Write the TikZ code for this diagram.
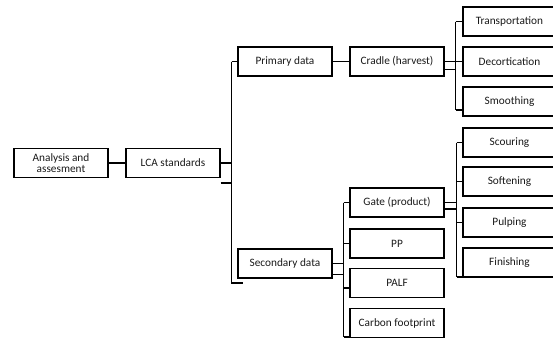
\documentclass[tikz,border=0pt]{standalone}
\usepackage{fontspec}
\setmainfont{Carlito}
\usetikzlibrary{calc}
\begin{document}
\begin{tikzpicture}[x=1pt,y=-1pt,
  box/.style={draw=black,line width=1.2pt,minimum width=94pt,minimum height=29pt,inner sep=1pt,align=center,font=\fontsize{11.3}{11.5}\selectfont,text=black!90},
  rbox/.style={box,minimum width=93pt},
  con/.style={draw=black,line width=1.1pt}]
\useasboundingbox (0,0) rectangle (553,341);
\node[box] (ana) at (61,163) {Analysis and\\assesment};
\node[box] (lca) at (173,163) {LCA standards};
\node[box] (pri) at (285,61.5) {Primary data};
\node[box] (sec) at (285,263.5) {Secondary data};
\node[box] (cra) at (397,61.5) {Cradle (harvest)};
\node[box] (gat) at (397,202.5) {Gate (product)};
\node[box] (pp) at (397,243.5) {PP};
\node[box] (palf) at (397,283) {PALF};
\node[box] (cf) at (397,323) {Carbon footprint};
\node[rbox] (tra) at (509.5,21.5) {Transportation};
\node[rbox] (dec) at (509.5,61.5) {Decortication};
\node[rbox] (smo) at (509.5,101.5) {Smoothing};
\node[rbox] (sco) at (509.5,142.5) {Scouring};
\node[rbox] (sof) at (509.5,181.5) {Softening};
\node[rbox] (pul) at (509.5,222.5) {Pulping};
\node[rbox] (fin) at (509.5,262.5) {Finishing};
% level 1
\draw[con] (ana.east) -- (lca.west);
\coordinate (b1) at ($(lca.east)+(11,0)$);
\draw[con] (lca.east) -- (b1);
\draw[con] ($(lca.east)+(0,20)$) -- ($(b1)+(0,20)$);
\draw[con] (b1 |- pri.west) -- (b1 |- 0,283) -- ++(11,0);
\draw[con] (b1 |- pri.west) -- (pri.west);
% primary
\draw[con] (pri.east) -- (cra.west);
\coordinate (b2) at ($(cra.east)+(11,0)$);
\draw[con] (cra.east) -- (b2);
\draw[con] ($(cra.east)+(0,8)$) -- ($(b2)+(0,8)$);
\draw[con] (b2 |- tra.west) -- (b2 |- 0,110);
\draw[con] (b2 |- tra.west) -- (tra.west);
\draw[con] (b2) -- (dec.west);
\draw[con] (b2 |- 0,110) -- (smo.west |- 0,110);
% gate
\coordinate (b3) at ($(gat.east)+(12,0)$);
\draw[con] (gat.east) -- (b3);
\draw[con] ($(gat.east)+(0,6.5)$) -- ($(b3)+(0,6.5)$);
\draw[con] (b3 |- sco.west) -- (b3 |- 0,277);
\draw[con] (b3 |- sco.west) -- (sco.west);
\draw[con] (b3 |- sof.west) -- (sof.west);
\draw[con] (b3 |- pul.west) -- (pul.west);
\draw[con] (b3 |- 0,277) -- (fin.west |- 0,277);
% secondary
\coordinate (b4) at ($(sec.east)+(11,0)$);
\draw[con] (sec.east) -- (b4);
\draw[con] ($(sec.east)+(0,11)$) -- ($(b4)+(0,11)$);
\draw[con] (b4 |- gat.west) -- (b4 |- 0,337);
\draw[con] (b4 |- gat.west) -- (gat.west);
\draw[con] (b4 |- pp.west) -- (pp.west);
\draw[con] (b4 |- 0,288) -- (palf.west |- 0,288);
\draw[con] (b4 |- 0,337) -- (cf.west |- 0,337);
\end{tikzpicture}
\end{document}
